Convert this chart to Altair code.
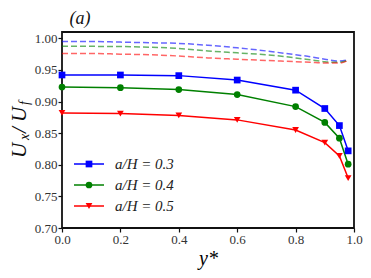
import altair as alt
import pandas as pd

# ---- data ----
series_labels = ["a/H = 0.3", "a/H = 0.4", "a/H = 0.5"]
series_colors = ["#0000ff", "#008000", "#ff0000"]
series_shapes = ["square", "circle", "triangle-down"]

x_solid = [0.0, 0.2, 0.4, 0.6, 0.8, 0.9, 0.95, 0.98]
blue_solid = [0.942, 0.942, 0.941, 0.934, 0.918, 0.889, 0.862, 0.822]
green_solid = [0.923, 0.922, 0.919, 0.911, 0.892, 0.867, 0.842, 0.801]
red_solid = [0.882, 0.881, 0.878, 0.871, 0.855, 0.835, 0.814, 0.779]

x_dash = [0.0, 0.1, 0.2, 0.3, 0.4, 0.5, 0.6, 0.7, 0.8, 0.85, 0.9, 0.95, 0.98]
blue_dash = [0.995, 0.995, 0.994, 0.993, 0.992, 0.989, 0.985, 0.980, 0.974, 0.971, 0.967, 0.964, 0.966]
green_dash = [0.9875, 0.9873, 0.987, 0.986, 0.984, 0.980, 0.977, 0.974, 0.969, 0.966, 0.963, 0.962, 0.965]
red_dash = [0.976, 0.976, 0.975, 0.974, 0.972, 0.969, 0.967, 0.965, 0.963, 0.962, 0.961, 0.961, 0.965]

x_ticks = [0.0, 0.2, 0.4, 0.6, 0.8, 1.0]
y_ticks = [0.70, 0.75, 0.80, 0.85, 0.90, 0.95, 1.00]

FONT = "'Liberation Serif', 'Times New Roman', serif"

solid_rows = []
for lab, vals in zip(series_labels, [blue_solid, green_solid, red_solid]):
    for x, v in zip(x_solid, vals):
        solid_rows.append({"x": x, "y": v, "s": lab})
solid_df = pd.DataFrame(solid_rows)

dash_rows = []
for lab, vals in zip(series_labels, [blue_dash, green_dash, red_dash]):
    for x, v in zip(x_dash, vals):
        dash_rows.append({"x": x, "y": v, "s": lab})
dash_df = pd.DataFrame(dash_rows)

xs = alt.Scale(domain=[0, 1], nice=False, zero=False)
ys = alt.Scale(domain=[0.70, 1.01], nice=False, zero=False)
cs = alt.Scale(domain=series_labels, range=series_colors)
ss = alt.Scale(domain=series_labels, range=series_shapes)

X = alt.X("x:Q", scale=xs, axis=alt.Axis(values=x_ticks, format=".1f", title="y*",
                                            titleFont=FONT, titleFontStyle="italic",
                                            titleFontWeight="normal", titleFontSize=20,
                                            titlePadding=2, labelFlush=False))
Y = alt.Y("y:Q", scale=ys, axis=alt.Axis(values=y_ticks, format=".2f", title=None,
                                            labelFlush=False))
C = alt.Color("s:N", scale=cs, legend=None)

dashed = alt.Chart(dash_df).mark_line(strokeDash=[6, 3], strokeWidth=1.5, opacity=0.6,
                                      interpolate="monotone").encode(x=X, y=Y, color=C, detail="s:N")
solid = alt.Chart(solid_df).mark_line(strokeWidth=1.5).encode(x=X, y=Y, color=C)
points = alt.Chart(solid_df).mark_point(filled=True, size=45, opacity=1).encode(
    x=X, y=Y, color=C, shape=alt.Shape("s:N", scale=ss, legend=None))

layers = [dashed, solid, points]

# manual legend (pixel positions relative to plot area)
leg_y = [132, 153, 174]
for lab, col, shp, yy in zip(series_labels, series_colors, series_shapes, leg_y):
    base = alt.Chart(pd.DataFrame({"l": [lab]}))
    layers.append(base.mark_rule(color=col, strokeWidth=1.5).encode(
        x=alt.value(12), x2=alt.value(42), y=alt.value(yy)))
    layers.append(base.mark_point(filled=True, size=45, shape=shp, color=col, opacity=1).encode(
        x=alt.value(27), y=alt.value(yy)))
    layers.append(base.mark_text(font=FONT, fontStyle="italic", fontSize=15, align="left",
                                 baseline="middle", color="#222").encode(
        x=alt.value(53), y=alt.value(yy), text="l:N"))

# panel label
layers.append(alt.Chart(pd.DataFrame({"t": ["(a)"]})).mark_text(
    font=FONT, fontStyle="italic", fontSize=18, align="center", baseline="middle", color="#111"
).encode(x=alt.value(18), y=alt.value(-13), text="t:N"))

# y axis title U_x/U_f built from pieces (rotated)
ypieces = [
    ("U", 21, 0, 126),
    ("x", 14, 3, 108),
    ("/", 21, 0, 101),
    ("U", 21, 0, 90),
    ("f", 14, 3, 73),
]
for txt, fs, dx, yy in ypieces:
    layers.append(alt.Chart(pd.DataFrame({"t": [txt]})).mark_text(
        font=FONT, fontStyle="italic", fontSize=fs, angle=270, align="left",
        baseline="alphabetic", color="#111"
    ).encode(x=alt.value(-36 + dx), y=alt.value(yy), text="t:N"))

chart = alt.layer(*layers).properties(
    width=292, height=196,
    autosize=alt.AutoSizeParams(type="none"),
    padding={"left": 54, "top": 24, "right": 9, "bottom": 42},
).configure_view(stroke="#111", strokeWidth=1.8).configure_axis(
    grid=False, domain=False, ticks=True, tickSize=4, tickColor="#111", tickWidth=1.2,
    labelFont=FONT, labelFontSize=13, labelColor="#333", labelPadding=1,
)

chart.save("out.html", embed_options={"renderer": "svg", "actions": False})
